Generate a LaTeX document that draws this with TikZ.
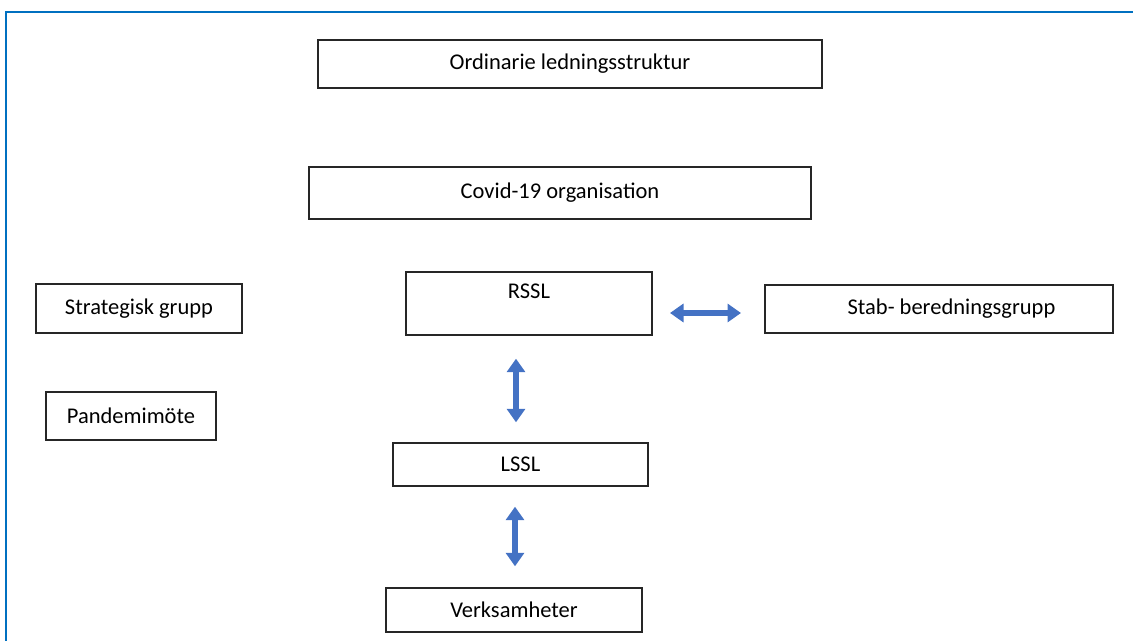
\documentclass[tikz,border=0pt]{standalone}
\usepackage{fontspec}
\setmainfont{Carlito}
\usetikzlibrary{arrows.meta}

\definecolor{framecol}{RGB}{0,112,192}
\definecolor{arrowcol}{RGB}{68,114,196}

\tikzset{
  box/.style={draw=black!85,line width=0.8pt,inner sep=0pt,font=\fontsize{12.8}{14}\selectfont},
  link/.style={arrowcol,line width=3.6pt,{Triangle[width=0.36cm,length=0.27cm]}-{Triangle[width=0.36cm,length=0.27cm]}}
}

\begin{document}
\begin{tikzpicture}[x=0.02cm,y=-0.02cm]

\useasboundingbox (0,0) rectangle (1133,641);
\draw[framecol,line width=1.6pt] (6,641) -- (6,12) -- (1133,12);

\node[box,minimum width=504*0.02cm,minimum height=48*0.02cm](ordinarie) at (570,64) {Ordinarie ledningsstruktur};

\node[box,minimum width=502*0.02cm,minimum height=52*0.02cm](covid) at (560,193) {Covid-19 organisation};

\node[box,minimum width=206*0.02cm,minimum height=49*0.02cm](strategisk) at (139,308.5) {Strategisk grupp};
\node[box,minimum width=246*0.02cm,minimum height=63*0.02cm,text depth=0.5cm](rssl) at (529,303.5) {RSSL};
\node[box,minimum width=348*0.02cm,minimum height=48*0.02cm](stab) at (939,309) {\hspace*{0.5cm}Stab- beredningsgrupp};

\node[box,minimum width=170*0.02cm,minimum height=48*0.02cm](pandemi) at (131,416) {Pandemimöte};

\node[box,minimum width=255*0.02cm,minimum height=43*0.02cm](lssl) at (520.5,464.5) {LSSL};

\node[box,minimum width=256*0.02cm,minimum height=44*0.02cm](verksamhet) at (514,610) {Verksamheter};

% arrows between the boxes
\coordinate (rssl out) at (652,313);
\coordinate (stab in) at (765,313);
\draw[link,shorten <=18*0.02cm,shorten >=24*0.02cm] (rssl out) to (stab in);
\draw[link,shorten <=23*0.02cm,shorten >=20*0.02cm] (rssl.south -| 516,0) to (lssl.north -| 516,0);
\draw[link,shorten <=20*0.02cm,shorten >=21*0.02cm] (lssl.south -| 515,0) to (verksamhet.north -| 515,0);

\end{tikzpicture}
\end{document}
